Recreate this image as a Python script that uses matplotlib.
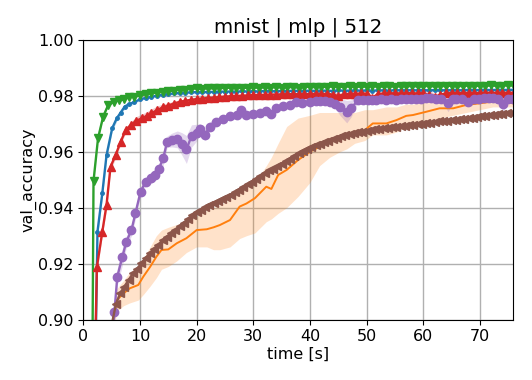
import numpy as np
import matplotlib
matplotlib.use("Agg")
import matplotlib.pyplot as plt

title = "mnist | mlp | 512"
xlabel = "time [s]"
ylabel = "val_accuracy"

# blue (C0)
t_blue = [2.1, 2.5, 3.35, 4.1, 5.1, 5.9, 6.6, 7.3, 8.1, 9, 10, 11, 12, 13, 14, 15, 16, 17, 18, 19,
          20, 21, 22, 23, 24, 25, 26, 27, 28, 29, 30, 31, 32, 33, 34, 35, 36, 37, 38, 39, 40, 41, 42,
          43, 44, 45, 46, 47, 48, 49, 50, 51, 52, 53, 54, 55, 56, 57, 58, 59, 60, 61, 62, 63, 64, 65,
          66, 67, 68, 69, 70, 71, 72, 73, 74, 75, 76]
y_blue = [0.88, 0.9314, 0.9451, 0.9588, 0.9684, 0.9719, 0.9740, 0.9761, 0.9770, 0.9777, 0.9787,
          0.9792, 0.9796, 0.9800, 0.9803, 0.9806, 0.9808, 0.9810, 0.9811, 0.9812, 0.9813, 0.9812,
          0.9814, 0.9813, 0.9815, 0.9814, 0.9815, 0.9814, 0.9816, 0.9815, 0.9816, 0.9815, 0.9817,
          0.9816, 0.9816, 0.9817, 0.9816, 0.9818, 0.9817, 0.9817, 0.9818, 0.9817, 0.9818, 0.9818,
          0.9817, 0.9819, 0.9818, 0.9818, 0.9819, 0.9818, 0.9819, 0.9818, 0.9819, 0.9819, 0.9818,
          0.9820, 0.9819, 0.9819, 0.9820, 0.9819, 0.9820, 0.9819, 0.9820, 0.9820, 0.9819, 0.9820,
          0.9820, 0.9819, 0.9821, 0.9820, 0.9820, 0.9821, 0.9820, 0.9821, 0.9820, 0.9821, 0.9821]
e_blue = [0.002, 0.002, 0.0015, 0.0015, 0.001, 0.001, 0.0008, 0.0008, 0.0008, 0.0006] + [0.0004] * 67

# green (C2)
t_green = [1.5, 1.8, 2.6, 3.5, 4.4, 5.4, 6.3, 7.2, 8.1, 9.0, 10, 11, 12, 13, 14, 15, 16, 17, 18, 19,
           20, 21, 22, 23, 24, 25, 26, 27, 28, 29, 30, 31, 32, 33, 34, 35, 36, 37, 38, 39, 40, 41, 42,
           43, 44, 45, 46, 47, 48, 49, 50, 51, 52, 53, 54, 55, 56, 57, 58, 59, 60, 61, 62, 63, 64, 65,
           66, 67, 68, 69, 70, 71, 72, 73, 74, 75, 76]
y_green = [0.85, 0.9495, 0.9648, 0.9725, 0.9767, 0.9779, 0.9783, 0.9787, 0.9795, 0.9797,
           0.9801, 0.9805, 0.9808, 0.9811, 0.9814, 0.9816, 0.9818, 0.9822, 0.9822, 0.9825,
           0.9826, 0.9824, 0.9827, 0.9826, 0.9828, 0.9827, 0.9829, 0.9828, 0.9827, 0.9829,
           0.9830, 0.9828, 0.9830, 0.9829, 0.9831, 0.9829, 0.9830, 0.9831, 0.9829, 0.9831,
           0.9832, 0.9830, 0.9832, 0.9831, 0.9833, 0.9831, 0.9832, 0.9833, 0.9831, 0.9833,
           0.9832, 0.9834, 0.9832, 0.9833, 0.9834, 0.9832, 0.9834, 0.9833, 0.9835, 0.9833,
           0.9834, 0.9835, 0.9833, 0.9835, 0.9834, 0.9836, 0.9834, 0.9835, 0.9836, 0.9834,
           0.9836, 0.9835, 0.9837, 0.9835, 0.9836, 0.9837, 0.9836]
e_green = [0.002, 0.002, 0.0015, 0.001, 0.0008, 0.0006] + [0.0004] * 71

# red (C3)
t_red = [2.0, 2.4, 3.35, 4.1, 4.8, 5.7, 6.6, 7.5, 8.4, 9.3, 10.3, 11.2, 12, 13, 14, 15, 16, 17, 18,
         19, 20, 21, 22, 23, 24, 25, 26, 27, 28, 29, 30, 31, 32, 33, 34, 35, 36, 37, 38, 39, 40, 41,
         42, 43, 44, 45, 46, 47, 48, 49, 50, 51, 52, 53, 54, 55, 56, 57, 58, 59, 60, 61, 62, 63, 64,
         65, 66, 67, 68, 69, 70, 71, 72, 73, 74, 75, 76]
y_red = [0.88, 0.9189, 0.9314, 0.9410, 0.9546, 0.9588, 0.9636, 0.9678, 0.9695, 0.9710, 0.9719,
         0.9728, 0.9737, 0.9748, 0.9758, 0.9765, 0.9772, 0.9778, 0.9782, 0.9785, 0.9788, 0.9790,
         0.9792, 0.9793, 0.9795, 0.9797, 0.9798, 0.9799, 0.9800, 0.9801, 0.9802, 0.9803, 0.9803,
         0.9804, 0.9804, 0.9805, 0.9805, 0.9806, 0.9805, 0.9806, 0.9806, 0.9807, 0.9806, 0.9807,
         0.9804, 0.9799, 0.9805, 0.9807, 0.9807, 0.9808, 0.9807, 0.9792, 0.9806, 0.9808, 0.9808,
         0.9809, 0.9808, 0.9809, 0.9809, 0.9808, 0.9809, 0.9802, 0.9795, 0.9803, 0.9809, 0.9810,
         0.9809, 0.9810, 0.9810, 0.9809, 0.9810, 0.9810, 0.9811, 0.9810, 0.9811, 0.9810, 0.9811]
e_red = ([0.002, 0.002, 0.0015, 0.0015, 0.0012, 0.0012, 0.001, 0.001, 0.0012, 0.0015, 0.0015,
          0.0015, 0.0015, 0.0015, 0.0012, 0.001, 0.0008, 0.0006] + [0.0005] * 26 +
         [0.0008, 0.0012, 0.0006] + [0.0005] * 3 + [0.0015, 0.0006] + [0.0005] * 8 +
         [0.0012, 0.002, 0.0012] + [0.0005] * 14)

# purple (C4)
t_purple = [5.2, 5.5, 6.0, 6.9, 7.6, 8.5, 9.2, 10.1, 11.0, 11.9, 12.6, 13.3, 14.1, 14.8, 15.7, 16.6,
            17.4, 18.2, 19.1, 20.0, 20.6, 21.5, 22.3, 23.5, 24.7, 25.9, 27.1, 27.9, 28.8, 30.0, 31.2,
            32.3, 33.2, 34.1, 35.3, 36.5, 37.6, 38.6, 40.0, 41.0, 41.7, 42.6, 43.5, 44.4, 45.3, 46.5,
            47.3, 48.5, 49.3, 50.2, 51.0, 51.7, 52.6, 53.5, 54.4, 55.2, 56.1, 57.0, 57.9, 58.7, 59.6,
            60.5, 61.4, 62.3, 63.2, 64.4, 65.3, 65.8, 66.8, 67.9, 68.9, 69.9, 70.8, 71.6, 72.3, 73.2,
            74.1, 75.0, 75.9]
y_purple = [0.895, 0.9029, 0.9154, 0.9225, 0.9279, 0.9320, 0.9380, 0.9457, 0.9493, 0.9505, 0.9517,
            0.9537, 0.9576, 0.9636, 0.9642, 0.9644, 0.9628, 0.9608, 0.9656, 0.9668, 0.9680, 0.9660,
            0.9690, 0.9707, 0.9718, 0.9726, 0.9731, 0.9750, 0.9731, 0.9734, 0.9737, 0.9746, 0.9735,
            0.9757, 0.9763, 0.9767, 0.9779, 0.9775, 0.9779, 0.9780, 0.9782, 0.9780, 0.9779, 0.9772,
            0.9760, 0.9743, 0.9755, 0.9785, 0.9786, 0.9786, 0.9785, 0.9785, 0.9787, 0.9786, 0.9788,
            0.9786, 0.9789, 0.9790, 0.9787, 0.9789, 0.9790, 0.9791, 0.9793, 0.9789, 0.9790, 0.9773,
            0.9788, 0.9790, 0.9789, 0.9779, 0.9790, 0.9790, 0.9791, 0.9792, 0.9792, 0.9790, 0.9770,
            0.9790, 0.9790]
e_purple = [0.004, 0.004, 0.003, 0.003, 0.002, 0.002, 0.002, 0.0015, 0.0015, 0.002, 0.002, 0.002,
            0.0025, 0.002, 0.0025, 0.003, 0.004, 0.005, 0.004, 0.003, 0.002, 0.002, 0.0015, 0.0015,
            0.0012, 0.0012, 0.0012, 0.0012, 0.0015, 0.0015, 0.001, 0.001, 0.001, 0.001, 0.0008,
            0.0008, 0.0008, 0.0008, 0.0008, 0.0008, 0.0008, 0.0008, 0.001, 0.0015, 0.003, 0.004,
            0.003, 0.0008, 0.0008, 0.0008, 0.0008, 0.0008, 0.0008, 0.0008, 0.0008, 0.0008, 0.0008,
            0.0008, 0.0008, 0.0008, 0.0008, 0.0008, 0.0008, 0.0008, 0.001, 0.003, 0.001, 0.0008,
            0.0008, 0.0015, 0.0008, 0.0008, 0.0008, 0.0008, 0.0008, 0.001, 0.003, 0.001, 0.0008]

# brown (C5)
t_brown = [5.0, 5.75, 6.5, 7.25, 8.0, 8.75, 9.5, 10.25, 11.0, 11.75, 12.5, 13.25, 14.0, 14.75, 15.5,
           16.25, 17.0, 17.75, 18.5, 19.25, 20.0, 20.75, 21.5, 22.25, 23.0, 23.75, 24.5, 25.25, 26.0,
           26.75, 27.5, 28.25, 29.0, 29.75, 30.5, 31.25, 32.0, 32.75, 33.5, 34.25, 35.0, 35.75, 36.5,
           37.25, 38.0, 38.75, 39.5, 40.25, 41.0, 41.75, 42.5, 43.25, 44.0, 44.75, 45.5, 46.25, 47.0,
           47.75, 48.5, 49.25, 50.0, 50.75, 51.5, 52.25, 53.0, 53.75, 54.5, 55.25, 56.0, 56.75, 57.5,
           58.25, 59.0, 59.75, 60.5, 61.25, 62.0, 62.75, 63.5, 64.25, 65.0, 65.75, 66.5, 67.25, 68.0,
           68.75, 69.5, 70.25, 71.0, 71.75, 72.5, 73.25, 74.0, 74.75, 75.5]
y_brown = [0.898, 0.9055, 0.9094, 0.9118, 0.9142, 0.9165, 0.9182, 0.9201, 0.9220, 0.9237, 0.9253,
           0.9268, 0.9283, 0.9296, 0.9308, 0.9320, 0.9333, 0.9346, 0.9359, 0.9373, 0.9386, 0.9393,
           0.9401, 0.9409, 0.9417, 0.9424, 0.9431, 0.9438, 0.9446, 0.9455, 0.9465, 0.9474, 0.9484,
           0.9493, 0.9502, 0.9512, 0.9524, 0.9533, 0.9540, 0.9548, 0.9557, 0.9566, 0.9575, 0.9584,
           0.9594, 0.9601, 0.9609, 0.9616, 0.9623, 0.9629, 0.9634, 0.9640, 0.9645, 0.9650, 0.9655,
           0.9659, 0.9663, 0.9666, 0.9670, 0.9672, 0.9675, 0.9677, 0.9680, 0.9682, 0.9684, 0.9686,
           0.9688, 0.9690, 0.9691, 0.9693, 0.9695, 0.9697, 0.9699, 0.9700, 0.9702, 0.9704, 0.9706,
           0.9708, 0.9710, 0.9711, 0.9713, 0.9714, 0.9716, 0.9718, 0.9720, 0.9722, 0.9724, 0.9726,
           0.9728, 0.9730, 0.9732, 0.9734, 0.9736, 0.9738, 0.9740]
e_brown = [0.002, 0.0015, 0.0012] + [0.001] * 92

# orange (C1) mean with min/max band
t_orange = [5.0, 5.9, 7.1, 8.2, 9.7, 10.6, 11.8, 12.9, 13.8, 15.0, 16.5, 18.2, 20.0, 21.8, 23.0, 24.1,
            25.9, 27.6, 28.8, 30.3, 32.3, 33.2, 34.4, 35.9, 37.9, 40.0, 41.7, 43.5, 45.3, 46.5, 47.9,
            49.7, 51.1, 53.5, 55.3, 57.0, 58.2, 60.6, 62.9, 65.3, 67.6, 70.0, 72.3, 73.5, 75.8]
y_orange = [0.895, 0.907, 0.9094, 0.9112, 0.9124, 0.9154, 0.9189, 0.9225, 0.9249, 0.9251, 0.9273,
            0.9291, 0.9320, 0.9323, 0.9330, 0.9338, 0.9356, 0.9404, 0.9415, 0.9434, 0.9475, 0.9467,
            0.9517, 0.9535, 0.9570, 0.9600, 0.9618, 0.9636, 0.9654, 0.9660, 0.9671, 0.9677, 0.9701,
            0.9701, 0.9713, 0.9728, 0.9731, 0.9743, 0.9755, 0.9755, 0.9767, 0.9773, 0.9779, 0.9782,
            0.9773]
lo_orange = [0.890, 0.903, 0.905, 0.906, 0.907, 0.909, 0.912, 0.915, 0.918, 0.919, 0.921, 0.924,
             0.926, 0.926, 0.925, 0.925, 0.926, 0.929, 0.930, 0.931, 0.935, 0.936, 0.938, 0.940,
             0.944, 0.949, 0.955, 0.958, 0.960, 0.961, 0.963, 0.964, 0.966, 0.966, 0.967, 0.969,
             0.970, 0.971, 0.972, 0.973, 0.974, 0.975, 0.976, 0.976, 0.976]
hi_orange = [0.900, 0.911, 0.914, 0.917, 0.919, 0.922, 0.926, 0.930, 0.932, 0.933, 0.934, 0.935,
             0.937, 0.939, 0.940, 0.941, 0.943, 0.946, 0.947, 0.949, 0.955, 0.958, 0.963, 0.969,
             0.972, 0.973, 0.974, 0.974, 0.974, 0.974, 0.974, 0.975, 0.975, 0.976, 0.976, 0.977,
             0.977, 0.978, 0.979, 0.979, 0.979, 0.979, 0.980, 0.980, 0.979]

fig = plt.figure(figsize=(5.32, 3.8), dpi=100)
ax = fig.add_axes([0.1566, 0.1587, 0.8071, 0.7368])


def draw(t, y, e, color, marker, ms):
    t = np.asarray(t)
    y = np.asarray(y)
    e = np.asarray(e)
    ax.fill_between(t, y - e, y + e, color=color, alpha=0.25, linewidth=0)
    ax.plot(t, y, color=color, marker=marker, markersize=ms, linewidth=1.7)


draw(t_blue, y_blue, e_blue, "C0", ".", 5)
ax.fill_between(t_orange, lo_orange, hi_orange, color="C1", alpha=0.22, linewidth=0)
ax.plot(t_orange, y_orange, color="C1", linewidth=1.4)
draw(t_green, y_green, e_green, "C2", "v", 6)
draw(t_red, y_red, e_red, "C3", "^", 5.5)
draw(t_purple, y_purple, e_purple, "C4", "o", 6)
draw(t_brown, y_brown, e_brown, "C5", "<", 6)

ax.set_xlim(0, 75.8)
ax.set_ylim(0.90, 1.00)
ax.set_yticks([0.90, 0.92, 0.94, 0.96, 0.98, 1.00])
ax.set_xticks([0, 10, 20, 30, 40, 50, 60, 70])
ax.yaxis.set_major_formatter(matplotlib.ticker.FormatStrFormatter("%.2f"))
ax.grid(True, color="#b0b0b0", linewidth=1.0)
ax.set_axisbelow(True)
ax.tick_params(labelsize=11.5)
ax.set_xlabel(xlabel, fontsize=11.5, labelpad=2)
ax.set_ylabel(ylabel, fontsize=11.5, labelpad=1)
ax.set_title(title, fontsize=14.2, pad=5)

fig.savefig("out.png", dpi=100)
